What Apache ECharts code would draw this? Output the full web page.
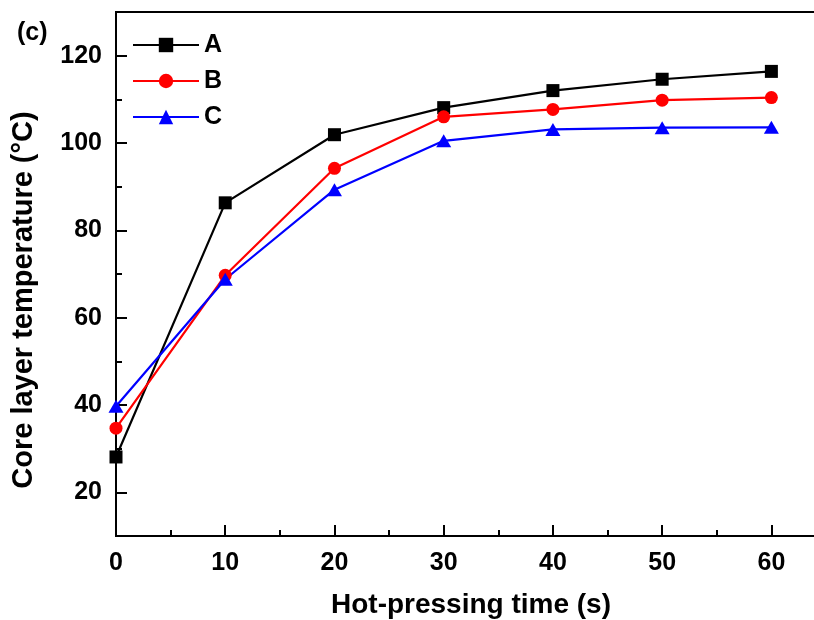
<!DOCTYPE html>
<html>
<head>
<meta charset="utf-8">
<script src="https://cdn.jsdelivr.net/npm/echarts@6/dist/echarts.min.js"></script>
<style>html,body{margin:0;padding:0;background:#fff}#c{width:814px;height:620px}</style>
</head>
<body>
<div id="c"></div>
<script>
var times = [0, 10, 20, 30, 40, 50, 60];
var seriesA = [28.1, 86.3, 101.9, 108.1, 112.0, 114.6, 116.4];
var seriesB = [34.7, 69.7, 94.2, 106.0, 107.7, 109.8, 110.4];
var seriesC = [39.7, 68.8, 89.3, 100.5, 103.1, 103.5, 103.6];
var xTicks = [0, 10, 20, 30, 40, 50, 60];
var xMinor = [5, 15, 25, 35, 45, 55];
var yTicks = [20, 40, 60, 80, 100, 120];
var yMinor = [30, 50, 70, 90, 110];

var FF = '"Liberation Sans", Arial, sans-serif';
function pairs(v){ return times.map(function(t,i){ return [t, v[i]]; }); }

var chart = echarts.init(document.getElementById('c'));
chart.setOption({
  animation: false,
  backgroundColor: '#fff',
  grid: { left: 116, top: 12, bottom: 84, right: -12, outerBoundsMode: 'none', containLabel: false,
          show: true, borderColor: '#000', borderWidth: 2, backgroundColor: 'transparent' },
  legend: {
    orient: 'vertical', left: 132, top: 32, padding: 0, itemWidth: 66, itemHeight: 18, itemGap: 10,
    data: ['A','B','C'],
    textStyle: { fontFamily: FF, fontWeight: 'bold', fontSize: 25, color: '#000', lineHeight: 26 }
  },
  xAxis: [{
    type: 'value', min: 0, max: 65, interval: 10,
    axisLine: { lineStyle: { color: '#000', width: 2 } },
    axisTick: { inside: true, length: 11, lineStyle: { color: '#000', width: 2 }, customValues: xTicks },
    axisLabel: { margin: 15, fontFamily: FF, fontWeight: 'bold', fontSize: 25, color: '#000', customValues: xTicks },
    splitLine: { show: false },
    name: 'Hot-pressing time (s)', nameLocation: 'middle', nameGap: 55,
    nameTextStyle: { fontFamily: FF, fontWeight: 'bold', fontSize: 28, color: '#000' }
  }, {
    type: 'value', min: 0, max: 65, position: 'bottom',
    axisLine: { show: false },
    axisTick: { inside: true, length: 6, lineStyle: { color: '#000', width: 2 }, customValues: xMinor },
    axisLabel: { show: false }, splitLine: { show: false }
  }],
  yAxis: [{
    type: 'value', min: 10, max: 130,
    axisLine: { show: true, lineStyle: { color: '#000', width: 2 } },
    axisTick: { show: true, inside: true, length: 11, lineStyle: { color: '#000', width: 2 }, customValues: yTicks },
    axisLabel: { margin: 14, fontFamily: FF, fontWeight: 'bold', fontSize: 25, color: '#000', customValues: yTicks },
    splitLine: { show: false }
  }, {
    type: 'value', min: 10, max: 130, position: 'left',
    axisLine: { show: false },
    axisTick: { show: true, inside: true, length: 6, lineStyle: { color: '#000', width: 2 }, customValues: yMinor },
    axisLabel: { show: false }, splitLine: { show: false }
  }],
  graphic: [
    { type: 'text', left: 17, top: 21, style: { text: '(c)', fontFamily: FF, fontWeight: 'bold', fontSize: 25, fill: '#000' } },
    { type: 'text', x: 24, y: 300, rotation: Math.PI/2, style: { text: 'Core layer temperature (°C)', fontFamily: FF, fontWeight: 'bold', fontSize: 29, fill: '#000', align: 'center', verticalAlign: 'middle' } }
  ],
  series: [
    { name: 'A', type: 'line', data: pairs(seriesA), symbol: 'rect', symbolSize: 13,
      lineStyle: { color: '#000', width: 2.2 }, itemStyle: { color: '#000' } },
    { name: 'B', type: 'line', data: pairs(seriesB), symbol: 'circle', symbolSize: 13,
      lineStyle: { color: '#ff0000', width: 2.2 }, itemStyle: { color: '#ff0000' } },
    { name: 'C', type: 'line', data: pairs(seriesC), symbol: 'triangle', symbolSize: [15, 13],
      lineStyle: { color: '#0000ff', width: 2.2 }, itemStyle: { color: '#0000ff' } }
  ]
});
</script>
</body>
</html>
